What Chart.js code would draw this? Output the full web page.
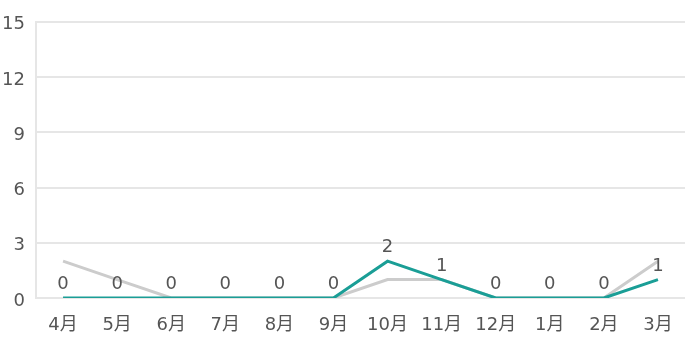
<!DOCTYPE html>
<html>
<head>
    <meta charset="utf-8">
    <title>月別件数</title>
    <style>
        html, body { margin: 0; padding: 0; background: #fff; }
        #chart-container { width: 685px; height: 352px; }
    </style>
</head>
<body>
    <div id="chart-container">
        <canvas id="myChart"></canvas>
    </div>
    <script src="https://cdn.jsdelivr.net/npm/chart.js"></script>
    <script>
        const months = ['4月', '5月', '6月', '7月', '8月', '9月', '10月', '11月', '12月', '1月', '2月', '3月'];
        const currentYear = [0, 0, 0, 0, 0, 0, 2, 1, 0, 0, 0, 1];
        const lastYear = [2, 1, 0, 0, 0, 0, 1, 1, 0, 0, 0, 2];
        const yTicks = [0, 3, 6, 9, 12, 15];

        const fontFamily = '"DejaVu Sans", "Noto Sans CJK JP", sans-serif';

        // draw values above the teal line
        const valueLabels = {
            id: 'valueLabels',
            afterDatasetsDraw(chart) {
                const ctx = chart.ctx;
                const meta = chart.getDatasetMeta(1);
                ctx.save();
                ctx.font = '18px ' + fontFamily;
                ctx.fillStyle = '#555';
                ctx.textAlign = 'center';
                ctx.textBaseline = 'alphabetic';
                meta.data.forEach((pt, i) => {
                    ctx.fillText(String(currentYear[i]), pt.x, pt.y - 9);
                });
                ctx.restore();
            }
        };

        const ctx = document.getElementById('myChart').getContext('2d');
        const myChart = new Chart(ctx, {
            type: 'line',
            data: {
                labels: months,
                datasets: [{
                    label: '前年',
                    data: lastYear,
                    borderColor: '#cccccc',
                    borderWidth: 3,
                    pointRadius: 0,
                    tension: 0,
                    order: 2
                }, {
                    label: '今年',
                    data: currentYear,
                    borderColor: '#1a9e96',
                    borderWidth: 3,
                    pointRadius: 0,
                    tension: 0,
                    order: 1
                }]
            },
            options: {
                responsive: true,
                maintainAspectRatio: false,
                animation: false,
                layout: { padding: { top: 12, right: 0, left: 0, bottom: 0 } },
                plugins: {
                    legend: { display: false },
                    tooltip: { enabled: false }
                },
                scales: {
                    x: {
                        offset: true,
                        afterFit(axis) {
                            axis.height = 54;
                            axis.paddingLeft = 0;
                            axis.paddingRight = 0;
                        },
                        grid: { display: false, drawTicks: false },
                        border: { color: '#e6e6e6', width: 2 },
                        ticks: {
                            color: '#555',
                            padding: 17,
                            maxRotation: 0,
                            autoSkip: false,
                            font: { family: fontFamily, size: 18 }
                        }
                    },
                    y: {
                        min: 0,
                        max: 15,
                        afterBuildTicks(axis) {
                            axis.ticks = yTicks.map(v => ({ value: v }));
                        },
                        afterFit(axis) {
                            axis.width = 36;
                        },
                        grid: { color: '#e6e6e6', lineWidth: 2, drawTicks: false },
                        border: { color: '#e6e6e6', width: 2 },
                        ticks: {
                            color: '#555',
                            padding: 11,
                            labelOffset: 3,
                            font: { family: fontFamily, size: 18 }
                        }
                    }
                }
            },
            plugins: [valueLabels]
        });
    </script>
</body>
</html>
